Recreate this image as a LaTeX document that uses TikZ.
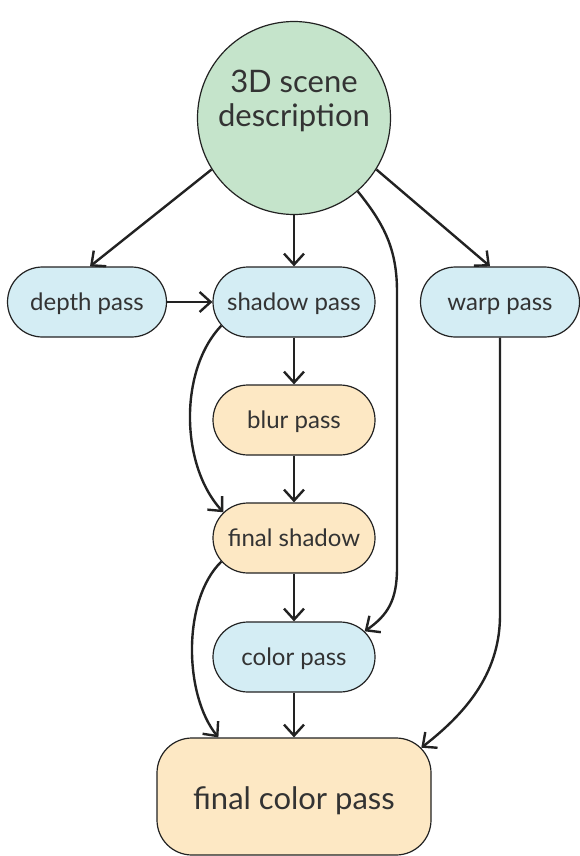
\documentclass[tikz,border=0pt]{standalone}
\usepackage{fontspec}
\setmainfont{Lato}
\usetikzlibrary{arrows.meta,shapes.misc,calc}
\definecolor{gfill}{HTML}{C5E4CB}
\definecolor{bfill}{HTML}{D4EDF4}
\definecolor{ofill}{HTML}{FDE8C4}
\definecolor{edgec}{HTML}{222222}
\definecolor{txtc}{HTML}{333333}
\newcommand{\passtext}[1]{\raisebox{-8pt}[0pt][0pt]{#1}}
\begin{document}
\begin{tikzpicture}[x=1pt,y=-1pt,
  pass/.style={rounded rectangle, draw=edgec, line width=1.2pt, minimum width=160pt, minimum height=70pt, inner sep=0pt, text=txtc, font=\fontsize{24}{28}\selectfont},
  bluepass/.style={pass, fill=bfill},
  orangepass/.style={pass, fill=ofill},
  conn/.style={draw=edgec, line width=2.4pt, -{Straight Barb[length=11pt,width=20pt,line width=2.4pt]}}
]
\useasboundingbox (0,0) rectangle (579,856);
\node[circle, draw=edgec, line width=1.2pt, fill=gfill, minimum size=193pt, inner sep=0pt, text=txtc, font=\fontsize{31}{34}\selectfont] (scene) at (294,118) {\raisebox{-9pt}[0pt][0pt]{\begin{tabular}[b]{@{}c@{}}3D scene\\description\end{tabular}}};
\node[bluepass, minimum width=159pt] (depth) at (87,302) {\passtext{depth pass}};
\node[bluepass, minimum width=162pt] (shadow) at (294,302) {\passtext{shadow pass}};
\node[bluepass, minimum width=159pt] (warp) at (500,302) {\passtext{warp pass}};
\node[orangepass, minimum width=162pt] (blur) at (294,420) {\passtext{blur pass}};
\node[orangepass, minimum width=162pt] (fshadow) at (294,538) {\passtext{final shadow}};
\node[bluepass, minimum width=162pt] (color) at (294,657) {\passtext{color pass}};
\node[draw=edgec, line width=1.2pt, fill=ofill, rounded corners=35pt, minimum width=274pt, minimum height=117pt, inner sep=0pt, text=txtc, font=\fontsize{31}{36}\selectfont] (fcolor) at (294,796.5) {\raisebox{-12.5pt}[0pt][0pt]{final color pass}};

\draw[conn] (scene.212) -- ($(depth.north)+(3,0)$);
\draw[conn] (scene.south) -- (shadow.north);
\draw[conn] (scene.-32) -- ($(warp.north)+(-10,0)$);
\draw[conn] (scene.-49) .. controls (385,225) and (397,250) .. (397,292) -- (397,568) .. controls (397,600) and (388,615) .. (color.20);
\draw[conn] (depth.east) -- (shadow.west);
\draw[conn] (shadow.south) -- (blur.north);
\draw[conn] (shadow.198) .. controls (179,370) and (180,465) .. (fshadow.160);
\draw[conn] (blur.south) -- (fshadow.north);
\draw[conn] (fshadow.south) -- (color.north);
\draw[conn] (fshadow.198) .. controls (182,600) and (184,695) .. ($(fcolor.north west)+(62,0)$);
\draw[conn] (color.south) -- (fcolor.north);
\draw[conn] (warp.south) -- (500,615) .. controls (500,670) and (470,710) .. ($(fcolor.north east)+(-10.3,10.3)$);
\end{tikzpicture}
\end{document}
